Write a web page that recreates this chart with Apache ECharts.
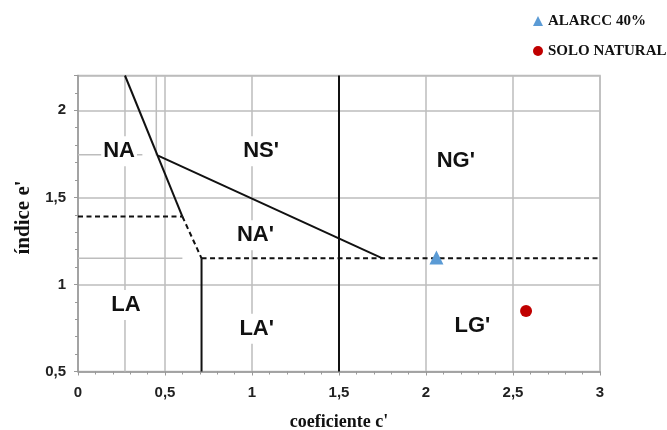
<!DOCTYPE html>
<html>
<head>
<meta charset="utf-8">
<script src="https://cdn.jsdelivr.net/npm/echarts@6/dist/echarts.min.js"></script>
<style>html,body{margin:0;padding:0;background:#fff}#c{width:667px;height:430px}</style>
</head>
<body>
<div id="c"></div>
<script>
// ---- data ----
const xTicks = [0, 0.5, 1, 1.5, 2, 2.5, 3];
const yTicks = [0.5, 1, 1.5, 2];
const seriesNames = ['ALARCC 40%', 'SOLO NATURAL'];
const alarccPoint = [[2.06, 1.155]];
const soloPoint = [[2.575, 0.848]];
const regionNames = ['NA', "NS'", "NG'", "NA'", 'LA', "LA'", "LG'"];
const regionX = [0.236, 1.052, 2.171, 1.02, 0.275, 1.027, 2.267];
const regionY = [1.765, 1.765, 1.708, 1.283, 0.882, 0.745, 0.76];
// boundary lines (data coordinates)
const solidSegments = [
  [[0.27, 2.2], [0.6, 1.39]],
  [[0.46, 1.74], [1.75, 1.15]],
  [[1.5, 0.5], [1.5, 2.2]],
  [[0.71, 0.5], [0.71, 1.15]]
];
const dashedSegments = [
  [[0.6, 1.39], [0.71, 1.15]],
  [[0.71, 1.15], [3, 1.15]],
  [[0, 1.39], [0.6, 1.39]]
];
const greySegments = [
  [[0.27, 0.5], [0.27, 2.2]],
  [[0.45, 1.74], [0.45, 2.2]],
  [[0, 1.745], [0.37, 1.745]],
  [[0, 1.15], [0.6, 1.15]]
];

// ---- chart ----
const chart = echarts.init(document.getElementById('c'), null, {renderer: 'canvas'});
const fmt = v => {
  const ok = yTicks.concat(xTicks).some(t => Math.abs(t - v) < 1e-9);
  return ok ? String(v).replace('.', ',') : '';
};
const series = [];
greySegments.forEach(s => series.push({
  type: 'line', data: s, symbol: 'none', silent: true, z: 1,
  lineStyle: {color: '#bdbdbd', width: 1.5}
}));
series.push({
  type: 'scatter', symbolSize: 0, z: 3, silent: true,
  itemStyle: {opacity: 1},
  data: regionNames.map((n, i) => ({name: n, value: [regionX[i], regionY[i]]})),
  label: {
    show: true, position: 'inside', formatter: p => p.name, opacity: 1,
    fontFamily: 'Liberation Sans, Arial, sans-serif', fontWeight: 'bold', fontSize: 22,
    color: '#111', backgroundColor: '#fff', padding: [4, 2]
  }
});
solidSegments.forEach(s => series.push({
  type: 'line', data: s, symbol: 'none', silent: true, z: 4,
  lineStyle: {color: '#111', width: 2}
}));
dashedSegments.forEach(s => series.push({
  type: 'line', data: s, symbol: 'none', silent: true, z: 4,
  lineStyle: {color: '#111', width: 2, type: [5, 3.5]}
}));
series.push({
  name: seriesNames[0], type: 'scatter', data: alarccPoint, symbol: 'triangle', symbolSize: 14, z: 5,
  itemStyle: {color: '#5b9bd5', opacity: 1}
});
series.push({
  name: seriesNames[1], type: 'scatter', data: soloPoint, symbol: 'circle', symbolSize: 12, z: 5,
  itemStyle: {color: '#c00000', opacity: 1}
});

const axisCommon = {
  type: 'value',
  axisLine: {show: true, lineStyle: {color: '#999', width: 1.5}},
  axisTick: {show: true, length: 4, lineStyle: {color: '#999'}},
  minorTick: {show: true, splitNumber: 5, length: 3, lineStyle: {color: '#999'}},
  splitLine: {show: true, lineStyle: {color: '#bdbdbd', width: 1.5}},
  axisLabel: {
    formatter: fmt, color: '#222', fontWeight: 'bold', fontSize: 15,
    fontFamily: 'Liberation Sans, Arial, sans-serif'
  },
  nameLocation: 'middle',
  nameTextStyle: {fontFamily: 'Liberation Serif, Times New Roman, serif', fontWeight: 'bold', color: '#111'}
};

chart.setOption({
  animation: false,
  backgroundColor: '#fff',
  grid: {left: 78, right: 67, top: 75.5, bottom: 58.5, outerBoundsMode: 'none', containLabel: false,
    show: true, borderColor: '#bdbdbd', borderWidth: 1.5},
  legend: {
    data: [{name: seriesNames[0], icon: 'triangle'}, {name: seriesNames[1], icon: 'circle'}],
    orient: 'vertical', left: 528, top: 8, itemGap: 14, itemWidth: 10, itemHeight: 10,
    textStyle: {fontFamily: 'Liberation Serif, Times New Roman, serif', fontWeight: 'bold', fontSize: 15, color: '#111', lineHeight: 16}
  },
  xAxis: Object.assign({}, axisCommon, {
    min: 0, max: 3, interval: 0.5, name: "coeficiente c'", nameGap: 42,
    axisLabel: Object.assign({}, axisCommon.axisLabel, {margin: 14}),
    nameTextStyle: Object.assign({}, axisCommon.nameTextStyle, {fontSize: 18})
  }),
  yAxis: Object.assign({}, axisCommon, {
    min: 0.5, max: 2.2, interval: 0.5, name: "índice e'", nameGap: 40,
    axisLabel: Object.assign({}, axisCommon.axisLabel, {margin: 12}),
    nameTextStyle: Object.assign({}, axisCommon.nameTextStyle, {fontSize: 21, padding: [0, 0, 0, 12]})
  }),
  series: series
});
</script>
</body>
</html>
